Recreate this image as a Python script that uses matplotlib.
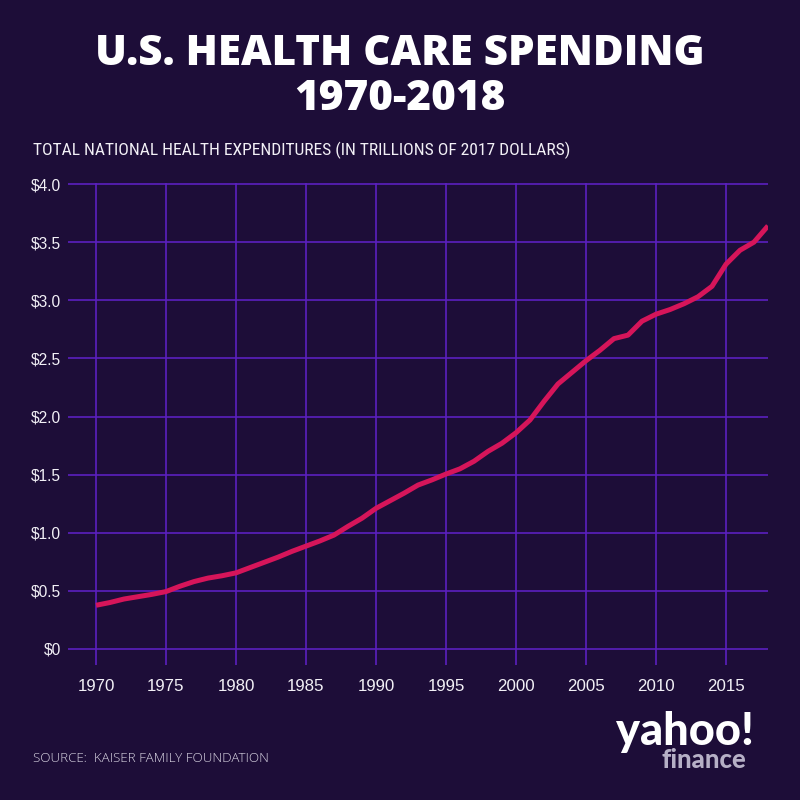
import matplotlib.pyplot as plt
from matplotlib import font_manager

years = list(range(1970, 2019))
spending = [0.376, 0.40, 0.43, 0.45, 0.47, 0.494, 0.54, 0.58, 0.61, 0.63,
            0.655, 0.70, 0.745, 0.79, 0.84, 0.885, 0.93, 0.98, 1.055, 1.125,
            1.21, 1.275, 1.34, 1.41, 1.455, 1.505, 1.55, 1.615, 1.70, 1.77,
            1.86, 1.97, 2.13, 2.28, 2.38, 2.48, 2.57, 2.67, 2.70, 2.82,
            2.88, 2.92, 2.97, 3.03, 3.12, 3.31, 3.43, 3.50, 3.64]
yticks = [0, 0.5, 1.0, 1.5, 2.0, 2.5, 3.0, 3.5, 4.0]
ytick_labels = ['$0', '$0.5', '$1.0', '$1.5', '$2.0', '$2.5', '$3.0', '$3.5', '$4.0']
xticks = list(range(1970, 2016, 5))

bg = '#1d0d38'
grid_c = '#5b20bf'
line_c = '#d6155a'

# look for a condensed face for the subtitle, else fall back
narrow = 'Liberation Sans'
for f in font_manager.fontManager.ttflist:
    if 'Narrow' in f.name or 'Condensed' in f.name:
        narrow = f.name
        if 'Liberation' in f.name:
            break

fig = plt.figure(figsize=(8, 8), dpi=100, facecolor=bg)
# axes spans pixels x 68..768, y 183..665
ax = fig.add_axes([68 / 800, 1 - 665 / 800, 700 / 800, (665 - 183) / 800])
ax.set_facecolor(bg)
ax.plot(years, spending, color=line_c, lw=3.6, solid_capstyle='butt', zorder=3)

ax.set_xlim(1968, 2018)
ax.set_ylim(-16 / 116.25, 4.0 + 1 / 116.25)
ax.set_xticks(xticks)
ax.set_yticks(yticks)
ax.set_yticklabels(ytick_labels)
ax.grid(True, color=grid_c, lw=1.2)
ax.set_axisbelow(True)
for s in ax.spines.values():
    s.set_visible(False)
ax.tick_params(length=0, colors='white')
ax.tick_params(axis='y', pad=5, labelsize=11.2)
ax.tick_params(axis='x', pad=10, labelsize=12.2)
for lab in ax.get_xticklabels() + ax.get_yticklabels():
    lab.set_fontfamily('Liberation Sans')
    lab.set_color('#f2f0f6')

fig.text(0.5, 1 - 65 / 800, 'U.S. HEALTH CARE SPENDING', ha='center', va='baseline',
         color='white', fontsize=30.3, fontweight='heavy', family='Open Sans')
fig.text(0.5, 1 - 110.5 / 800, '1970-2018', ha='center', va='baseline',
         color='white', fontsize=30.3, fontweight='heavy', family='Open Sans')
sub = fig.text(33 / 800, 1 - 155 / 800,
               'TOTAL NATIONAL HEALTH EXPENDITURES (IN TRILLIONS OF 2017 DOLLARS)',
               ha='left', va='baseline', color='#f2f0f6', fontsize=13.3, family=narrow)
fig.text(33 / 800, 1 - 761.5 / 800, 'SOURCE:  KAISER FAMILY FOUNDATION',
         ha='left', va='baseline', color='#d8d4e2', fontsize=9.6,
         fontweight='light', family='Open Sans')

# logo
fig.text(754 / 800, 1 - 745 / 800, 'yahoo!', ha='right', va='baseline',
         color='white', fontsize=32.5, fontweight='black', family='Lato')
fig.text(746 / 800, 1 - 768 / 800, 'finance', ha='right', va='baseline',
         color='#b6b0c6', fontsize=18.5, fontweight='black', family='Lato')

# fit the subtitle to the width it has in the reference (538 px)
r = fig.canvas.get_renderer()
w = sub.get_window_extent(r).width
if w > 545:
    sub.set_fontsize(13.3 * 538 / w)

fig.savefig('out.png', dpi=100, facecolor=bg)
